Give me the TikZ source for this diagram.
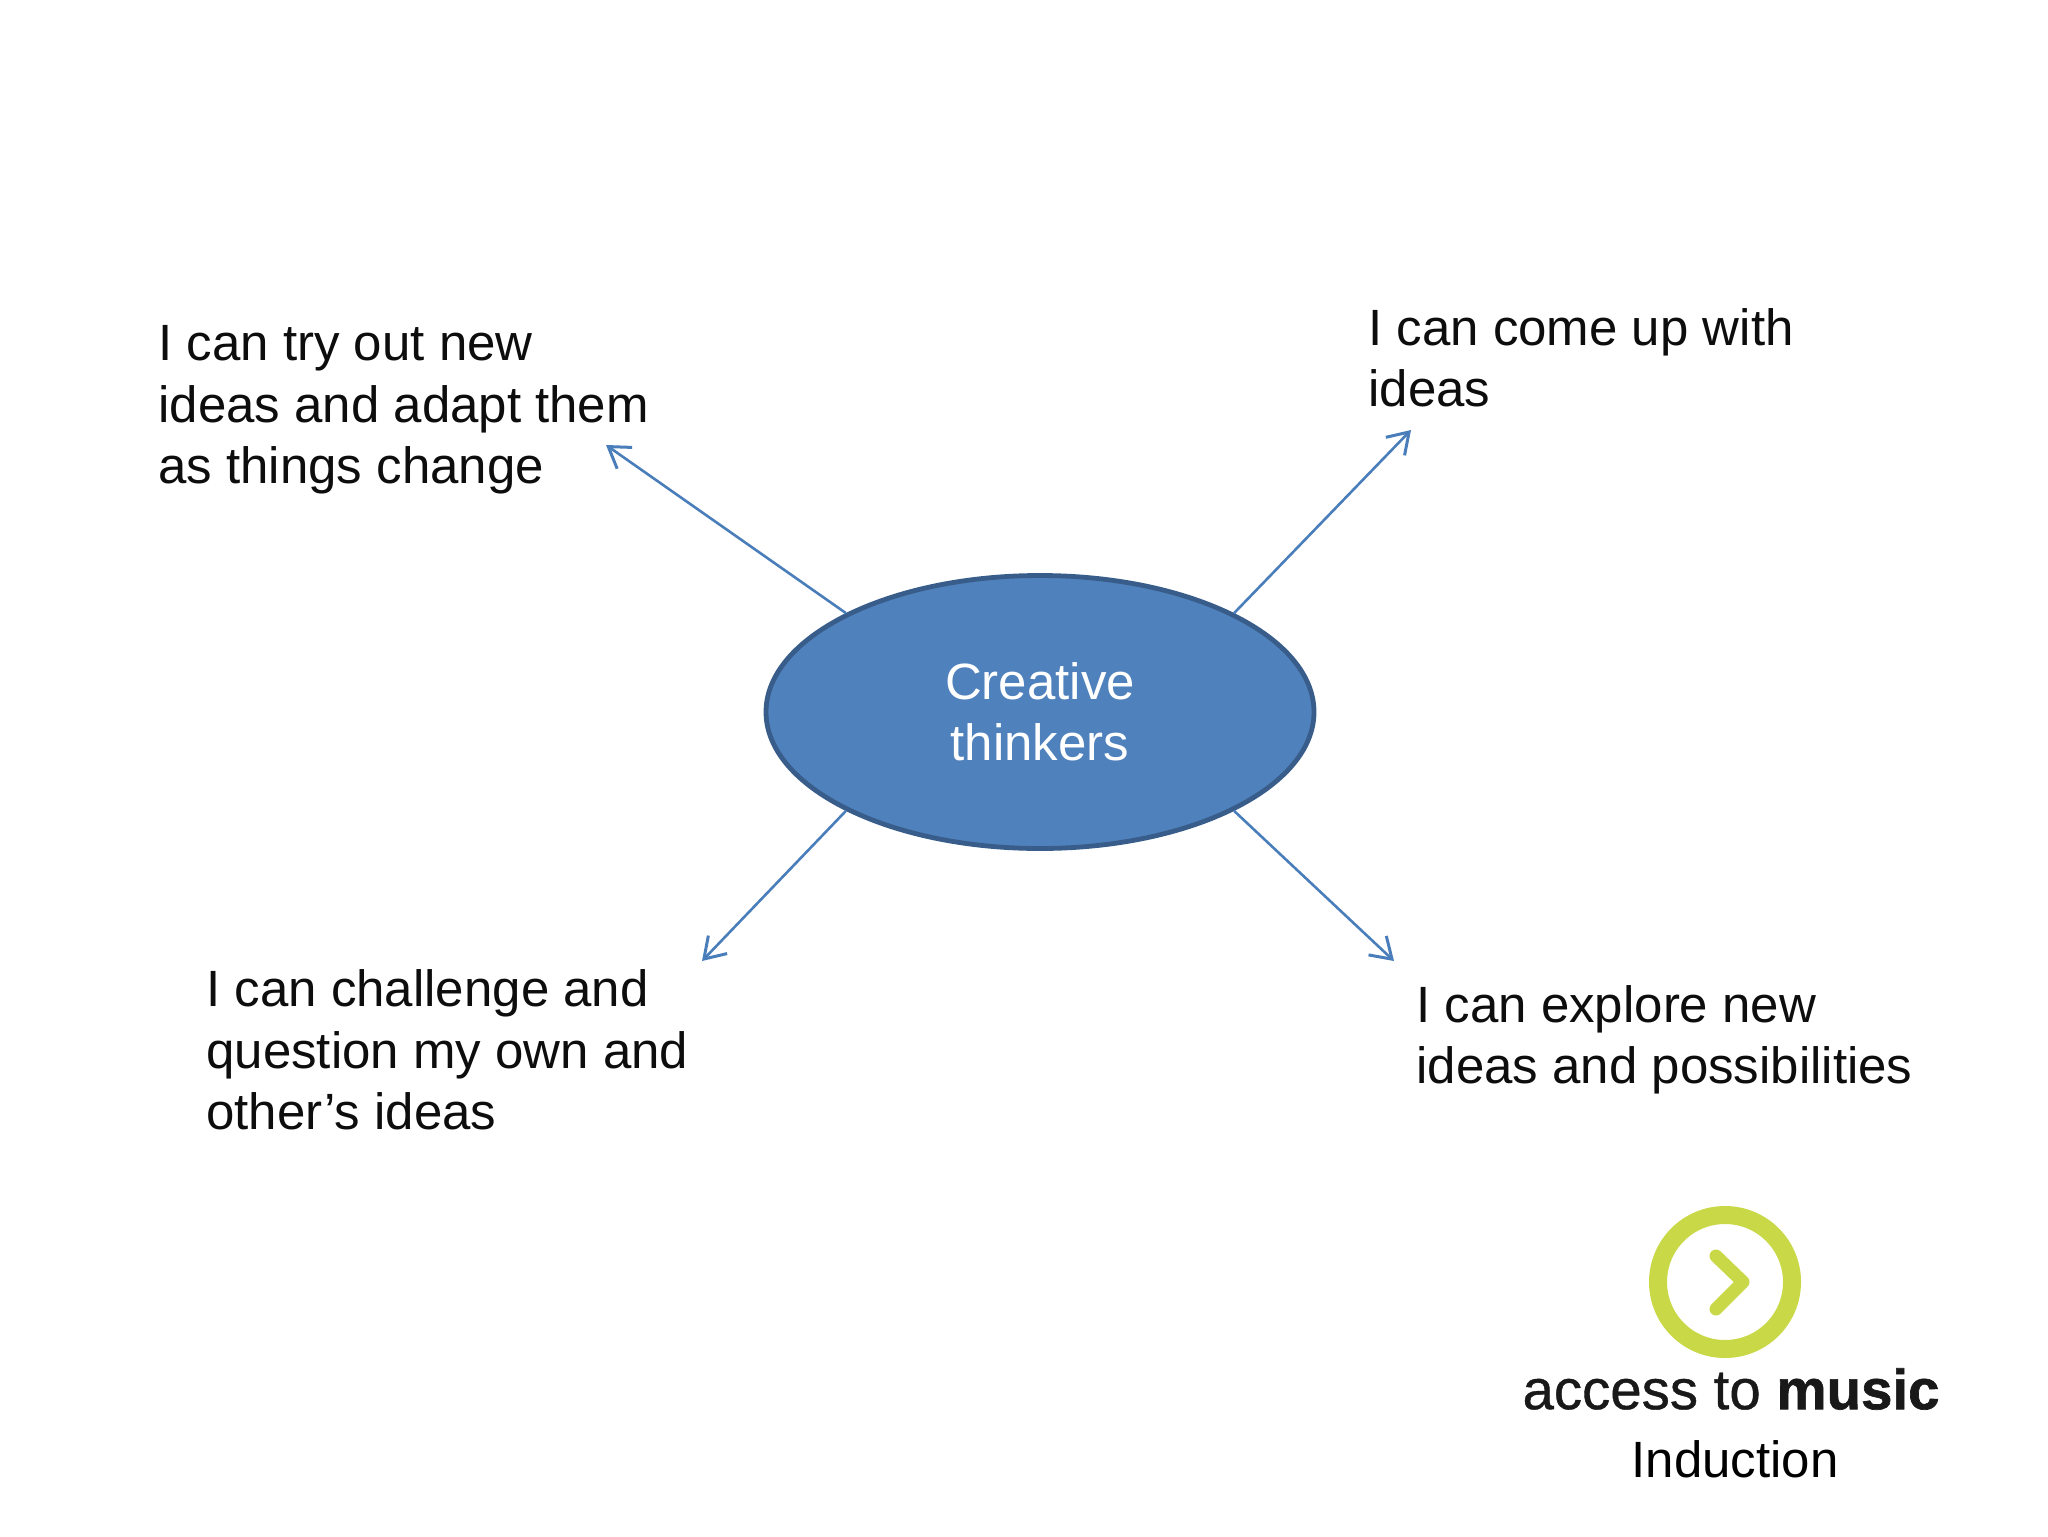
\documentclass[tikz,border=0pt]{standalone}
\usepackage{fontspec}
\setmainfont{Liberation Sans}
\newfontfamily\brandfont[FakeBold=0.7,BoldFeatures={FakeBold=1.2}]{Liberation Sans}
\usetikzlibrary{arrows.meta,shapes.geometric}
\definecolor{ovalfill}{HTML}{4F81BD}
\definecolor{ovalline}{HTML}{385D8A}
\definecolor{arrowline}{HTML}{4A7EBB}
\definecolor{logogreen}{HTML}{C9D846}
\tikzset{
  px/.style={x=0.5pt,y=-0.5pt},
  oval/.style={ellipse,draw=ovalline,fill=ovalfill,line width=2.4pt,minimum width=274pt,minimum height=136.5pt,inner sep=0pt,text=white,align=center,font=\fontsize{25.5}{30.7}\selectfont},
  label/.style={anchor=west,inner sep=0pt,align=left,text=black!95,font=\fontsize{25.5}{30.7}\selectfont},
  spoke/.style={draw=arrowline,line width=1.3pt,-{Straight Barb[length=10pt,width=13pt,line width=1.5pt]}},
}
\begin{document}
\begin{tikzpicture}[px]
\useasboundingbox (0,0) rectangle (2048,1536);
\node[oval] (c) at (1040,712) {Creative\\thinkers};
\coordinate (tl) at (606,445);
\coordinate (tr) at (1411,430);
\coordinate (bl) at (702,961);
\coordinate (br) at (1394,961);
\draw[spoke] (c.153) -- (tl);
\draw[spoke] (c.27) -- (tr);
\draw[spoke] (c.207) -- (bl);
\draw[spoke] (c.333) -- (br);
\node[label] (t1) at (158,410) {I can try out new\\ideas and adapt them\\as things change};
\node[label] (t2) at (1368,358) {I can come up with\\ideas};
\node[label] (t3) at (206,1050) {I can challenge and\\question my own and\\other’s ideas};
\node[label] (t4) at (1416,1040) {I can explore new\\ideas and possibilities};
\node[circle,draw=logogreen,line width=9pt,minimum size=67pt,inner sep=0pt] (ring) at (1725,1282) {};
\coordinate (ch1) at (1716,1256);
\coordinate (ch2) at (1743,1282);
\coordinate (ch3) at (1716,1309);
\draw[logogreen,line width=6.5pt,line cap=round,line join=round] (ch1) -- (ch2) -- (ch3);
\node[inner sep=0pt,text=black!90,font=\fontsize{28.2}{30}\brandfont] (brand) at (1731,1389) {access to \textbf{music}};
\node[inner sep=0pt,text=black,font=\fontsize{25.5}{30.7}\selectfont] (ind) at (1735,1459) {Induction};
\end{tikzpicture}
\end{document}
